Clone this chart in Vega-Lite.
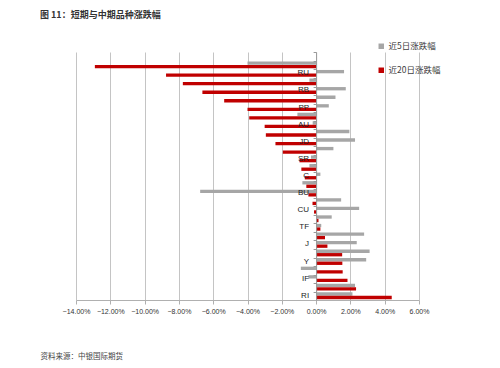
{
  "$schema": "https://vega.github.io/schema/vega-lite/v6.json",
  "width": 343,
  "height": 248,
  "autosize": {"type": "none"},
  "padding": {"left": 76, "top": 52, "right": 81, "bottom": 68},
  "background": "white",
  "title": {
    "text": "图 11：短期与中期品种涨跌幅",
    "anchor": "start",
    "frame": "group",
    "dx": -36,
    "offset": 22,
    "fontSize": 9,
    "fontWeight": "bold",
    "font": "Noto Sans CJK SC",
    "color": "#333333"
  },
  "data": {
    "values": [
      {"序号": 1, "品种": "", "近5日涨跌幅": -0.040, "近20日涨跌幅": -0.129},
      {"序号": 2, "品种": "RU", "近5日涨跌幅": 0.0163, "近20日涨跌幅": -0.0875},
      {"序号": 3, "品种": "", "近5日涨跌幅": -0.0039, "近20日涨跌幅": -0.0777},
      {"序号": 4, "品种": "RB", "近5日涨跌幅": 0.0173, "近20日涨跌幅": -0.0663},
      {"序号": 5, "品种": "", "近5日涨跌幅": 0.0113, "近20日涨跌幅": -0.0536},
      {"序号": 6, "品种": "PP", "近5日涨跌幅": 0.0074, "近20日涨跌幅": -0.040},
      {"序号": 7, "品种": "", "近5日涨跌幅": -0.0109, "近20日涨跌幅": -0.039},
      {"序号": 8, "品种": "AU", "近5日涨跌幅": -0.002, "近20日涨跌幅": -0.030},
      {"序号": 9, "品种": "", "近5日涨跌幅": 0.0194, "近20日涨跌幅": -0.0293},
      {"序号": 10, "品种": "JD", "近5日涨跌幅": 0.0227, "近20日涨跌幅": -0.0237},
      {"序号": 11, "品种": "", "近5日涨跌幅": 0.0101, "近20日涨跌幅": -0.0194},
      {"序号": 12, "品种": "SR", "近5日涨跌幅": -0.003, "近20日涨跌幅": -0.0097},
      {"序号": 13, "品种": "", "近5日涨跌幅": -0.0039, "近20日涨跌幅": -0.0086},
      {"序号": 14, "品种": "C", "近5日涨跌幅": 0.0025, "近20日涨跌幅": -0.0066},
      {"序号": 15, "品种": "", "近5日涨跌幅": -0.008, "近20日涨跌幅": -0.0057},
      {"序号": 16, "品种": "BU", "近5日涨跌幅": -0.0676, "近20日涨跌幅": -0.0045},
      {"序号": 17, "品种": "", "近5日涨跌幅": 0.0146, "近20日涨跌幅": -0.0021},
      {"序号": 18, "品种": "CU", "近5日涨跌幅": 0.0251, "近20日涨跌幅": -0.0012},
      {"序号": 19, "品种": "", "近5日涨跌幅": 0.0091, "近20日涨跌幅": 0.0014},
      {"序号": 20, "品种": "TF", "近5日涨跌幅": 0.003, "近20日涨跌幅": 0.0025},
      {"序号": 21, "品种": "", "近5日涨跌幅": 0.028, "近20日涨跌幅": 0.0052},
      {"序号": 22, "品种": "J", "近5日涨跌幅": 0.0237, "近20日涨跌幅": 0.0066},
      {"序号": 23, "品种": "", "近5日涨跌幅": 0.0312, "近20日涨跌幅": 0.0152},
      {"序号": 24, "品种": "Y", "近5日涨跌幅": 0.0292, "近20日涨跌幅": 0.0153},
      {"序号": 25, "品种": "", "近5日涨跌幅": -0.0089, "近20日涨跌幅": 0.0155},
      {"序号": 26, "品种": "IF", "近5日涨跌幅": -0.0045, "近20日涨跌幅": 0.0183},
      {"序号": 27, "品种": "", "近5日涨跌幅": 0.0227, "近20日涨跌幅": 0.0233},
      {"序号": 28, "品种": "RI", "近5日涨跌幅": 0.0212, "近20日涨跌幅": 0.0441}
    ]
  },
  "encoding": {
    "y": {
      "field": "序号",
      "type": "ordinal",
      "scale": {
        "domain": [0, 1, 2, 3, 4, 5, 6, 7, 8, 9, 10, 11, 12, 13, 14, 15, 16, 17, 18, 19, 20, 21, 22, 23, 24, 25, 26, 27, 28],
        "paddingInner": 0.2,
        "paddingOuter": 0.1
      },
      "axis": {
        "offset": -240.1,
        "labels": false,
        "title": null,
        "grid": false,
        "bandPosition": 0,
        "tickSize": 3,
        "tickColor": "#999999",
        "domainColor": "#999999",
        "zindex": 1
      }
    }
  },
  "layer": [
    {
      "transform": [{"fold": ["近5日涨跌幅", "近20日涨跌幅"], "as": ["系列", "涨跌幅"]}],
      "mark": {"type": "bar"},
      "encoding": {
        "x": {
          "field": "涨跌幅",
          "type": "quantitative",
          "scale": {"domain": [-0.14, 0.06], "nice": false, "zero": false},
          "axis": {
            "tickCount": 10,
            "format": ".2%",
            "labelOverlap": false,
            "labelFlush": false,
            "title": "资料来源：中银国际期货",
            "titleX": -36,
            "titleY": 56,
            "titleAlign": "left",
            "titleBaseline": "middle"
          }
        },
        "yOffset": {
          "field": "系列",
          "type": "nominal",
          "scale": {"domain": ["近5日涨跌幅", "近20日涨跌幅"], "paddingInner": 0.05}
        },
        "color": {
          "field": "系列",
          "type": "nominal",
          "scale": {"domain": ["近5日涨跌幅", "近20日涨跌幅"], "range": ["#a6a6a6", "#c00000"]},
          "legend": {
            "title": null,
            "orient": "none",
            "legendX": 301,
            "legendY": -10,
            "direction": "vertical",
            "symbolType": "square",
            "symbolSize": 30,
            "symbolStrokeWidth": 0,
            "labelFont": "Noto Sans CJK SC",
            "labelFontSize": 8.5,
            "labelColor": "#404040",
            "labelOffset": 3,
            "rowPadding": 15,
            "padding": 0
          }
        }
      }
    },
    {
      "transform": [{"filter": "datum['品种'] != ''"}],
      "mark": {"type": "text", "align": "right", "baseline": "middle", "dx": -7, "font": "Liberation Sans", "fontSize": 8, "color": "#222222"},
      "encoding": {
        "x": {"datum": 0, "type": "quantitative"},
        "text": {"field": "品种", "type": "nominal"}
      }
    }
  ],
  "config": {
    "view": {"stroke": null},
    "axisX": {
      "labelOverlap": false,
      "labelFont": "Liberation Sans",
      "labelFontSize": 7,
      "labelColor": "#333333",
      "labelPadding": 3,
      "grid": true,
      "gridColor": "#c4c4c4",
      "domainColor": "#b0b0b0",
      "tickColor": "#b0b0b0",
      "tickSize": 4,
      "titleFont": "Noto Sans CJK SC",
      "titleFontSize": 7.5,
      "titleFontWeight": "normal",
      "titleColor": "#444444"
    }
  }
}
